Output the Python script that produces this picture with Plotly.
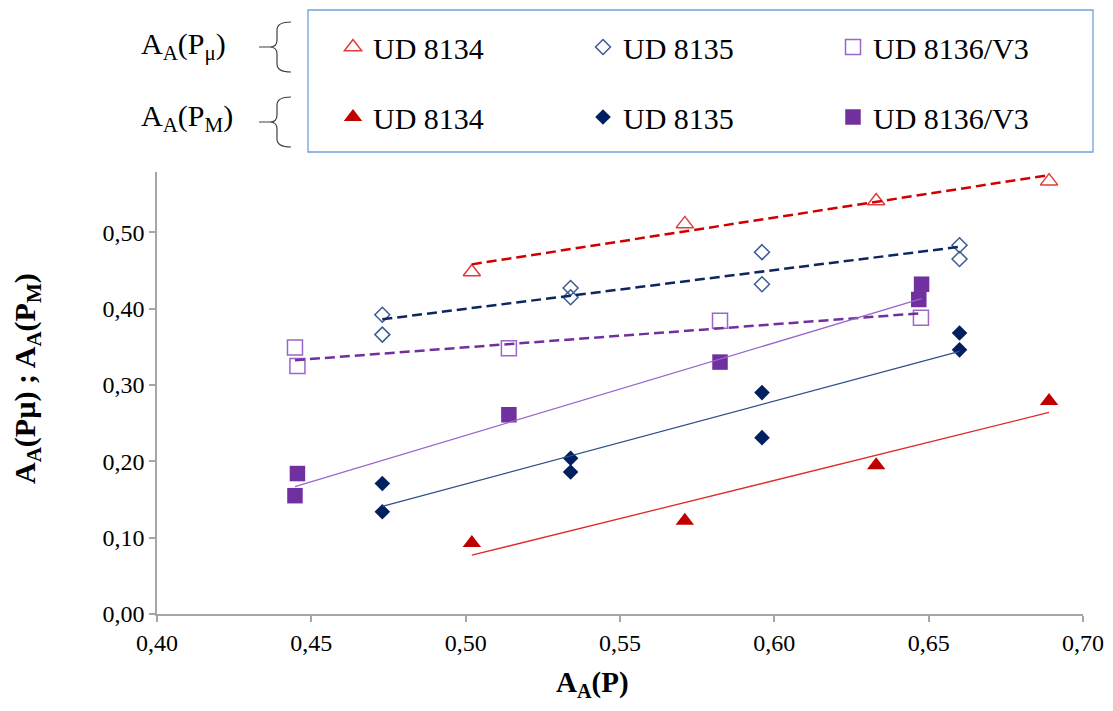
import plotly.graph_objects as go

# ---------------- data ----------------
x_8134 = [0.502, 0.571, 0.633, 0.689]
pmu_8134 = [0.448, 0.511, 0.541, 0.567]
pM_8134 = [0.093, 0.122, 0.195, 0.279]

x_8135 = [0.473, 0.473, 0.534, 0.534, 0.596, 0.596, 0.660, 0.660]
pmu_8135 = [0.392, 0.366, 0.427, 0.415, 0.474, 0.432, 0.483, 0.465]
pM_8135 = [0.171, 0.134, 0.204, 0.186, 0.290, 0.231, 0.368, 0.346]

x_8136_mu = [0.4447, 0.4455, 0.514, 0.5824, 0.6475]
pmu_8136 = [0.349, 0.325, 0.348, 0.384, 0.388]
x_8136_M = [0.4455, 0.4447, 0.514, 0.5824, 0.6477, 0.6468]
pM_8136 = [0.184, 0.155, 0.261, 0.330, 0.432, 0.412]

# linear trend lines: value at first and last x of each series
trend_pmu_8134 = [0.458, 0.575]
trend_pM_8134 = [0.077, 0.264]
trend_pmu_8135 = [0.386, 0.481]
trend_pM_8135 = [0.141, 0.344]
trend_pmu_8136 = [0.3325, 0.394]
trend_pM_8136 = [0.167, 0.413]

series_names = ["UD 8134", "UD 8135", "UD 8136/V3"]
x_ticks = [0.40, 0.45, 0.50, 0.55, 0.60, 0.65, 0.70]
y_ticks = [0.0, 0.1, 0.2, 0.3, 0.4, 0.5]

# ---------------- layout geometry ----------------
# the page body adds an 8px margin, so the figure is sized to fill the
# 1113x711 window exactly and coordinates below are window pixels
OFF = 8
W, H = 1113 - 2 * OFF, 711 - 2 * OFF
L, R, T, B = 157, 1083, 172, 614          # plot area in window pixels
FONT = "Liberation Serif, Times New Roman, serif"


def px(xp):
    return (xp - L) / (R - L)


def py(yp):
    return (B - yp) / (B - T)


def cx(xp):
    return (xp - OFF) / W


def cy(yp):
    return 1 - (yp - OFF) / H


fig = go.Figure()


def trend(xs, ends, color, dash, width):
    fig.add_trace(go.Scatter(
        x=[min(xs), max(xs)], y=ends, mode="lines",
        line=dict(color=color, width=width, dash=dash),
        showlegend=False, hoverinfo="skip"))


def markers(xs, ys, name, symbol, size, fill, edge, lw, legend):
    fig.add_trace(go.Scatter(
        x=xs, y=ys, mode="markers", name=name, legend=legend,
        marker=dict(symbol=symbol, size=size, color=fill,
                    line=dict(color=edge, width=lw))))


# markers
markers(x_8134, pmu_8134, series_names[0], "triangle-up-open", 15, "#E03C3C", "#E03C3C", 1.5, "legend")
markers(x_8135, pmu_8135, series_names[1], "diamond-open", 11.5, "#3B5A96", "#3B5A96", 1.5, "legend")
markers(x_8136_mu, pmu_8136, series_names[2], "square-open", 15, "#9966CC", "#9966CC", 1.5, "legend")
markers(x_8134, pM_8134, series_names[0], "triangle-up", 16, "#C00000", "#C00000", 0, "legend2")
markers(x_8135, pM_8135, series_names[1], "diamond", 12, "#002060", "#002060", 0, "legend2")
markers(x_8136_M, pM_8136, series_names[2], "square", 15.5, "#7030A0", "#7030A0", 0, "legend2")

# trend lines (drawn on top, as in the reference)
trend(x_8134, trend_pmu_8134, "#D00000", "10px,5px", 2.5)
trend(x_8135, trend_pmu_8135, "#0D2660", "10px,5px", 2.5)
trend(x_8136_mu, trend_pmu_8136, "#7030A0", "10px,5px", 2.5)
trend(x_8134, trend_pM_8134, "#E02828", "solid", 1.3)
trend(x_8135, trend_pM_8135, "#2F4F8A", "solid", 1.3)
trend(x_8136_M, trend_pM_8136, "#9966CC", "solid", 1.3)

axis_common = dict(
    showline=True, linecolor="#A6A6A6", linewidth=1.5,
    ticks="outside", ticklen=6, tickcolor="#A6A6A6", tickwidth=1.5,
    showgrid=False, zeroline=False, tickformat=".2f", automargin=False,
    ticklabeloverflow="allow",
    tickfont=dict(family=FONT, size=24, color="black"),
)

legend_common = dict(
    orientation="h", xref="container", yref="container",
    xanchor="left", yanchor="middle",
    entrywidth=205, entrywidthmode="pixels",
    font=dict(family=FONT, size=30, color="black"),
    bgcolor="rgba(0,0,0,0)", borderwidth=0, itemwidth=30,
)


# braces beside the legend row labels
def brace(cyp):
    top, bot = cyp - 25, cyp + 25
    pts = [
        ("M", 291, top), ("Q", 277, top, 277, top + 8), ("L", 277, cyp - 7),
        ("Q", 277, cyp, 270, cyp), ("Q", 277, cyp, 277, cyp + 7), ("L", 277, bot - 8),
        ("Q", 277, bot, 291, bot), ("M", 259, cyp), ("L", 270, cyp),
    ]
    parts = []
    for p in pts:
        cmd = p[0]
        coords = p[1:]
        s = []
        for i in range(0, len(coords), 2):
            s.append(f"{px(coords[i]):.5f},{py(coords[i + 1]):.5f}")
        parts.append(cmd + " " + " ".join(s))
    return dict(type="path", xref="paper", yref="paper", path=" ".join(parts),
                line=dict(color="#404040", width=1.2))


shapes = [
    dict(type="rect", xref="paper", yref="paper",
         x0=px(308), x1=px(1093), y0=py(152), y1=py(10),
         line=dict(color="#6FA3D8", width=1.3), fillcolor="rgba(0,0,0,0)"),
    brace(47), brace(122),
]

annotations = [
    dict(text="A<sub>A</sub>(P<sub>μ</sub>)", x=px(139), y=py(46), xref="paper", yref="paper",
         xanchor="left", yanchor="middle", showarrow=False,
         font=dict(family=FONT, size=30, color="black")),
    dict(text="A<sub>A</sub>(P<sub>M</sub>)", x=px(139), y=py(118), xref="paper", yref="paper",
         xanchor="left", yanchor="middle", showarrow=False,
         font=dict(family=FONT, size=30, color="black")),
    dict(text="<b>A<sub>A</sub>(Pµ) ; A<sub>A</sub>(P<sub>M</sub>)</b>", x=px(27), y=py(379),
         xref="paper", yref="paper", textangle=-90, showarrow=False,
         xanchor="center", yanchor="middle",
         font=dict(family=FONT, size=30, color="black")),
    dict(text="<b>A<sub>A</sub>(P)</b>", x=px(592), y=py(684), xref="paper", yref="paper",
         showarrow=False, xanchor="center", yanchor="middle",
         font=dict(family=FONT, size=29, color="black")),
]

fig.update_layout(
    width=W, height=H, autosize=False,
    margin=dict(l=L - OFF, r=(OFF + W) - R, t=T - OFF, b=(OFF + H) - B, pad=0,
                autoexpand=False),
    paper_bgcolor="white", plot_bgcolor="white",
    font=dict(family=FONT, color="black"),
    separators=", ",
    xaxis=dict(range=[0.40, 0.70], tickvals=x_ticks, **axis_common),
    yaxis=dict(range=[0, 0.579], tickvals=y_ticks, **axis_common),
    legend=dict(x=cx(333), y=cy(47), **legend_common),
    legend2=dict(x=cx(333), y=cy(117), **legend_common),
    shapes=shapes,
    annotations=annotations,
)

fig.write_html("out.html")
